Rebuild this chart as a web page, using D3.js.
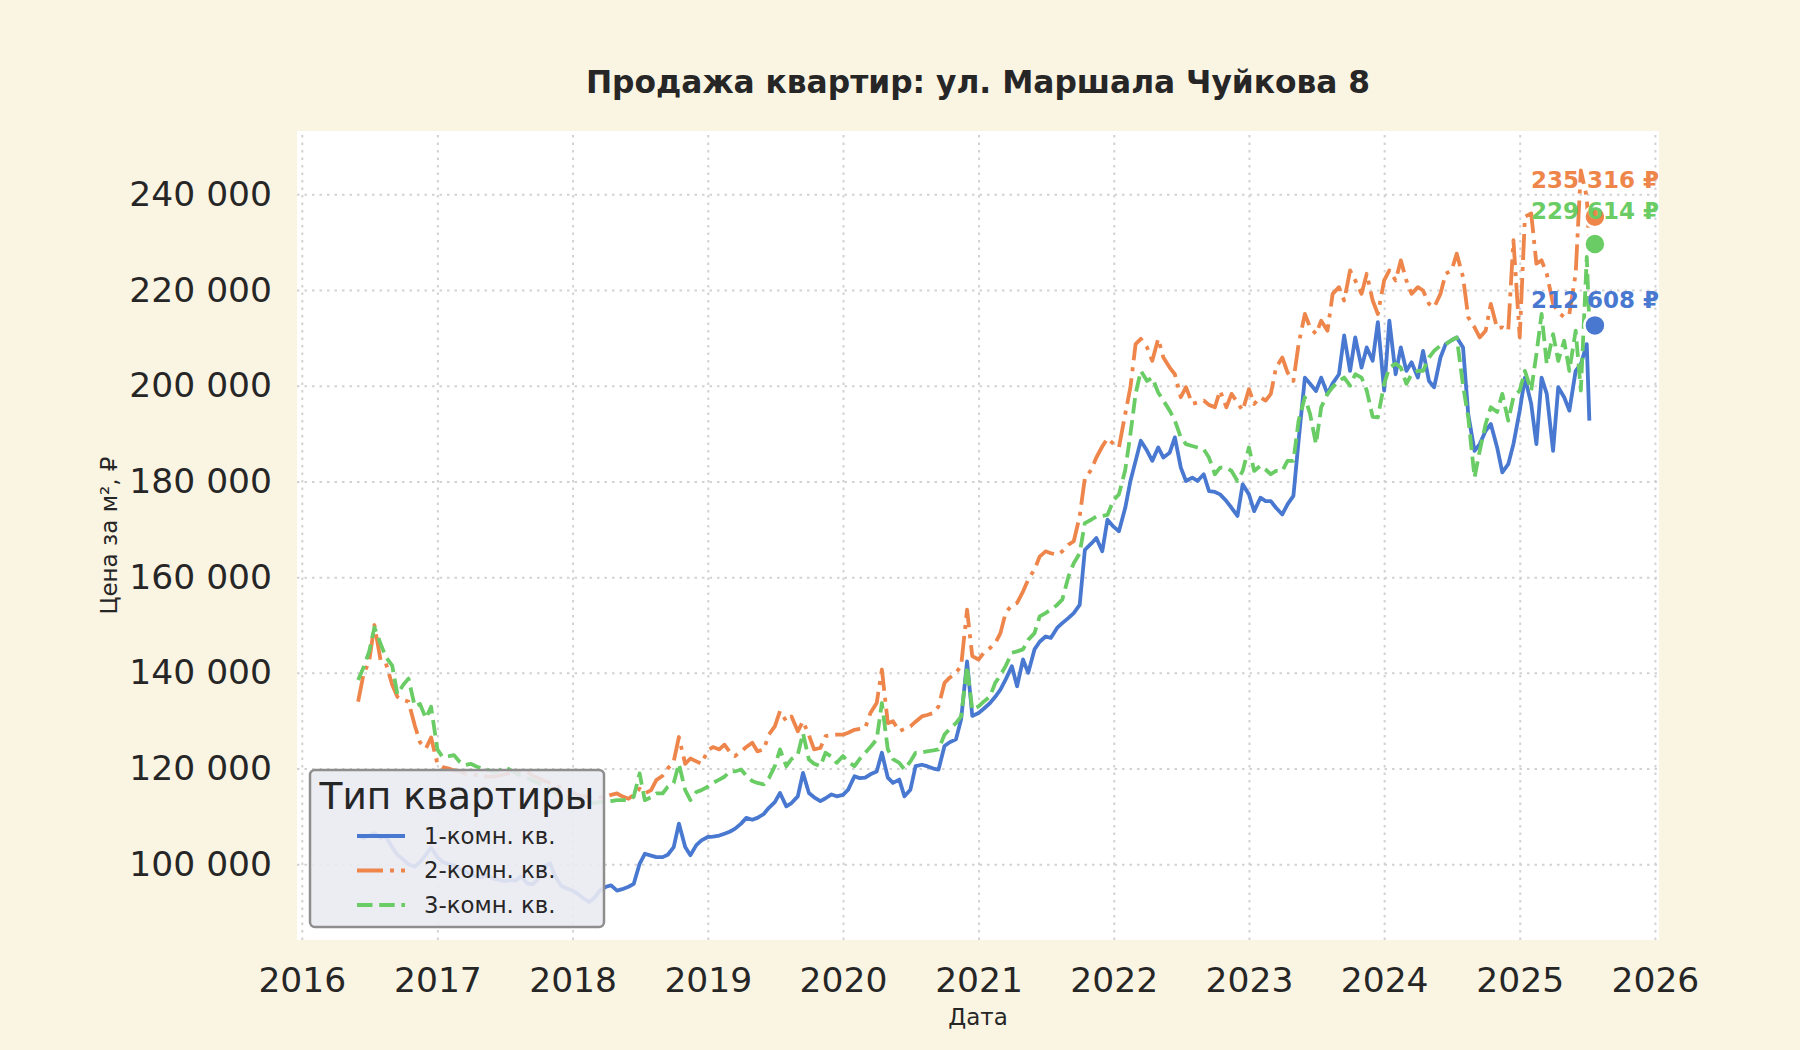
<!DOCTYPE html>
<html>
<head>
<meta charset="utf-8">
<script src="https://cdn.jsdelivr.net/npm/d3@7"></script>
<style>
  html, body { margin: 0; padding: 0; background: #FAF4E3; }
  svg { display: block; font-family: "DejaVu Sans", sans-serif; }
</style>
</head>
<body>
<div id="chart"></div>
<script>
// frame and plot area
const FRAME_WIDTH = 1800;
const FRAME_HEIGHT = 1050;
const PLOT = {left: 297, right: 1659, top: 131, bottom: 940};

// data: semi-monthly prices per m2
const DATES = [
  "2016-06-01","2016-06-15","2016-07-01","2016-07-15","2016-08-01","2016-08-15","2016-09-01","2016-09-15","2016-10-01","2016-10-15","2016-11-01","2016-11-15","2016-12-01","2016-12-15",
  "2017-01-01","2017-01-15","2017-02-01","2017-02-15","2017-03-01","2017-03-15","2017-04-01","2017-04-15","2017-05-01","2017-05-15","2017-06-01","2017-06-15","2017-07-01","2017-07-15","2017-08-01","2017-08-15","2017-09-01","2017-09-15","2017-10-01","2017-10-15","2017-11-01","2017-11-15","2017-12-01","2017-12-15",
  "2018-01-01","2018-01-15","2018-02-01","2018-02-15","2018-03-01","2018-03-15","2018-04-01","2018-04-15","2018-05-01","2018-05-15","2018-06-01","2018-06-15","2018-07-01","2018-07-15","2018-08-01","2018-08-15","2018-09-01","2018-09-15","2018-10-01","2018-10-15","2018-11-01","2018-11-15","2018-12-01","2018-12-15",
  "2019-01-01","2019-01-15","2019-02-01","2019-02-15","2019-03-01","2019-03-15","2019-04-01","2019-04-15","2019-05-01","2019-05-15","2019-06-01","2019-06-15","2019-07-01","2019-07-15","2019-08-01","2019-08-15","2019-09-01","2019-09-15","2019-10-01","2019-10-15","2019-11-01","2019-11-15","2019-12-01","2019-12-15",
  "2020-01-01","2020-01-15","2020-02-01","2020-02-15","2020-03-01","2020-03-15","2020-04-01","2020-04-15","2020-05-01","2020-05-15","2020-06-01","2020-06-15","2020-07-01","2020-07-15","2020-08-01","2020-08-15","2020-09-01","2020-09-15","2020-10-01","2020-10-15","2020-11-01","2020-11-15","2020-12-01","2020-12-15",
  "2021-01-01","2021-01-15","2021-02-01","2021-02-15","2021-03-01","2021-03-15","2021-04-01","2021-04-15","2021-05-01","2021-05-15","2021-06-01","2021-06-15","2021-07-01","2021-07-15","2021-08-01","2021-08-15","2021-09-01","2021-09-15","2021-10-01","2021-10-15","2021-11-01","2021-11-15","2021-12-01","2021-12-15",
  "2022-01-01","2022-01-15","2022-02-01","2022-02-15","2022-03-01","2022-03-15","2022-04-01","2022-04-15","2022-05-01","2022-05-15","2022-06-01","2022-06-15","2022-07-01","2022-07-15","2022-08-01","2022-08-15","2022-09-01","2022-09-15","2022-10-01","2022-10-15","2022-11-01","2022-11-15","2022-12-01","2022-12-15",
  "2023-01-01","2023-01-15","2023-02-01","2023-02-15","2023-03-01","2023-03-15","2023-04-01","2023-04-15","2023-05-01","2023-05-15","2023-06-01","2023-06-15","2023-07-01","2023-07-15","2023-08-01","2023-08-15","2023-09-01","2023-09-15","2023-10-01","2023-10-15","2023-11-01","2023-11-15","2023-12-01","2023-12-15",
  "2024-01-01","2024-01-15","2024-02-01","2024-02-15","2024-03-01","2024-03-15","2024-04-01","2024-04-15","2024-05-01","2024-05-15","2024-06-01","2024-06-15","2024-07-01","2024-07-15","2024-08-01","2024-08-15","2024-09-01","2024-09-15","2024-10-01","2024-10-15","2024-11-01","2024-11-15","2024-12-01","2024-12-15",
  "2025-01-01","2025-01-15","2025-02-01","2025-02-15","2025-03-01","2025-03-15","2025-04-01","2025-04-15","2025-05-01","2025-05-15","2025-06-01","2025-06-15","2025-07-01","2025-07-08"
];

const ROOMS_1 = [
  106000,105500,106000,106500,105500,105800,103500,102000,101000,100000,99500,100500,102000,103500,
  101500,100500,100000,99800,99000,98500,98000,97500,97300,97800,97000,96800,96500,96700,96600,97500,96000,95800,97000,99500,100200,97500,95500,95000,
  94500,93800,92800,92100,93000,94500,95300,95600,94500,94800,95300,95900,100100,102200,101800,101500,101500,102000,103600,108500,103600,101900,104000,105000,
  105700,105800,106000,106400,106800,107400,108500,109700,109300,109700,110500,111800,113000,114900,112100,112800,114200,119100,114900,114000,113200,113800,114600,114200,
  114500,115600,118400,118000,118100,118800,119400,123300,118100,117000,117700,114200,115600,120500,120800,120500,120000,119800,124700,125500,126100,130300,142400,131000,
  131600,132500,133700,135000,136500,138600,141400,137200,142800,140000,144900,146500,147600,147300,149400,150400,151500,152500,154200,165700,167000,168200,165400,172000,
  170500,169600,174500,180100,184300,188500,186400,184300,187100,185000,186000,189200,182900,180100,180800,180100,181500,178000,177800,177300,175900,174500,172800,179400,
  177300,173800,176600,175900,175900,174500,173100,175200,177000,188500,201700,200400,198900,201700,198300,200500,202400,210500,203100,210100,203800,208000,205200,213300,
  199000,213600,202400,208000,203100,204900,201700,207300,201000,199700,205900,208700,209500,210100,208000,194000,186400,187800,190600,192000,187100,181900,183600,187800,
  194800,201700,196200,187800,201700,198300,186400,199700,197600,194800,203100,204500,208700,192700
];

const ROOMS_2 = [
  134000,139500,142500,150000,142500,142000,137500,135000,134300,134000,129000,125500,124200,126500,
  121000,120300,120000,119600,119500,119000,118600,118700,118500,118300,118300,118500,118800,119000,119200,119600,119300,118500,118000,117500,117000,116500,116000,115500,
  115000,114500,114200,114000,114300,114000,114100,114500,114800,114200,113700,114500,115800,114800,115500,117600,118500,120000,121500,126600,121000,122100,121500,121000,
  123800,124500,124000,125000,123500,122600,123600,124500,125400,123600,124000,127100,128800,132000,129900,130900,127800,129900,127000,124000,124300,126800,127000,127100,
  127100,127500,128100,128300,128500,131600,133700,140700,129500,129900,127800,128300,128800,129800,130900,131200,131600,133000,137900,139000,140000,141500,153200,143500,
  142800,144200,145200,146200,148300,152500,154200,154600,157000,159500,161600,164300,165400,165000,164700,165400,166800,167500,172700,180700,182400,185000,187300,189000,
  187800,187100,194100,199700,208700,209800,208000,205200,209800,205900,203800,202400,197600,199700,196200,196500,196900,196000,195500,199000,195500,198300,196500,194800,
  199300,196200,197600,196900,198300,203800,205900,202800,201000,208700,215000,212200,210800,213600,211500,219200,220600,217800,224100,222000,219200,223400,217800,215000,
  222000,224100,222000,226200,222000,219200,220600,219900,217100,216400,219200,223400,224100,227600,222700,214300,212200,210100,211500,217100,212000,212200,211500,230400,
  210100,235300,236000,225500,226200,223400,217100,215400,214300,215000,223400,245000,239400,229000
];

const ROOMS_3 = [
  138500,141000,144500,149500,146000,143300,141500,135500,137500,138800,133000,133500,130500,132900,
  124000,122400,122600,122800,121500,120700,121000,120500,120000,119800,119300,119500,120300,119800,119000,118500,118000,117500,117000,116300,115800,115000,114500,114000,
  113800,113500,113200,113000,112800,113000,113000,113200,113400,113400,113400,114100,119000,113400,114000,114800,114800,116200,117000,121000,115500,113400,115100,115500,
  116200,117000,117700,118300,119400,119400,119800,118500,117400,117000,116700,118000,120500,124000,120500,122000,122900,127400,121900,121000,120500,123300,122500,121200,
  122600,121500,120500,122000,123300,124500,126100,133700,124000,122000,121200,119800,121500,123300,123400,123600,123800,124000,127100,128300,129500,130900,141400,132300,
  133000,134000,135100,137900,139500,141400,144200,144500,144900,146900,148300,151800,152500,153200,154200,155300,160200,162900,165000,171300,172000,172700,172800,173000,
  176200,177300,182400,189900,198300,203100,201000,201700,198600,196900,194800,192700,189200,187800,187400,187100,186700,185000,181500,182900,182900,182200,180100,182200,
  187100,182200,183300,182500,181500,182200,182200,184300,184300,192700,197600,194100,187800,195500,198300,199700,201000,201700,200000,202400,201700,199000,193500,193400,
  200400,203800,204600,203800,200400,202400,203100,203100,205900,207300,208400,208700,209500,210100,200000,193400,180800,186400,192000,195500,194500,198300,192700,197600,
  199000,203100,199000,206600,215000,204500,210800,205200,209400,203100,211500,199000,226900,212900
];

// current (last) values shown as dots with labels
const LAST_DATE = "2025-07-23";
const LAST_VALUES = [212608, 235316, 229614];

const SERIES_NAMES = ["1-комн. кв.", "2-комн. кв.", "3-комн. кв."];
const COLORS = ["#4878D0", "#EE854A", "#6ACC64"];
const DASHES = [null, "26,7,4,7", "15.5,6.7"];
const LABEL_DY = [17, 29, 25];
const LINE_WIDTH = 3.8;

const Y_TICKS = [100000, 120000, 140000, 160000, 180000, 200000, 220000, 240000];
const X_TICKS = ["2016","2017","2018","2019","2020","2021","2022","2023","2024","2025","2026"];

const TITLE = "Продажа квартир: ул. Маршала Чуйкова 8";
const X_LABEL = "Дата";
const Y_LABEL = "Цена за м², ₽";
const LEGEND_TITLE = "Тип квартиры";

const TEXT_COLOR = "#262626";
const FONT = "DejaVu Sans";

const parseDate = d3.timeParse("%Y-%m-%d");
const parseYear = d3.timeParse("%Y");
const fmt = (v) => d3.format(",")(v).replace(/,/g, " ");

const svg = d3.select("#chart")
  .append("svg")
    .attr("width", FRAME_WIDTH)
    .attr("height", FRAME_HEIGHT);

svg.append("rect")
  .attr("width", FRAME_WIDTH)
  .attr("height", FRAME_HEIGHT)
  .attr("fill", "#FAF4E3");

// scales
const X_SCALE = d3.scaleTime()
  .domain([parseDate("2015-12-19"), parseDate("2026-01-12")])
  .range([PLOT.left, PLOT.right]);

const Y_SCALE = d3.scaleLinear()
  .domain([84180, 253230])
  .range([PLOT.bottom, PLOT.top]);

// plot background
svg.append("rect")
  .attr("x", PLOT.left)
  .attr("y", PLOT.top)
  .attr("width", PLOT.right - PLOT.left)
  .attr("height", PLOT.bottom - PLOT.top)
  .attr("fill", "#FFFFFF");

// grid lines
const xTickDates = X_TICKS.map(parseYear);
svg.append("g")
  .attr("transform", "translate(0," + PLOT.bottom + ")")
  .call(d3.axisBottom(X_SCALE).tickValues(xTickDates).tickSize(-(PLOT.bottom - PLOT.top)).tickFormat(""))
  .call(g => g.select(".domain").remove())
  .call(g => g.selectAll("line")
    .attr("stroke", "#d2d2d2")
    .attr("stroke-width", 2)
    .attr("stroke-dasharray", "2.5,5"));

svg.append("g")
  .attr("transform", "translate(" + PLOT.left + ",0)")
  .call(d3.axisLeft(Y_SCALE).tickValues(Y_TICKS).tickSize(-(PLOT.right - PLOT.left)).tickFormat(""))
  .call(g => g.select(".domain").remove())
  .call(g => g.selectAll("line")
    .attr("stroke", "#d2d2d2")
    .attr("stroke-width", 2)
    .attr("stroke-dasharray", "2.5,5"));

// tick labels
svg.append("g")
  .attr("transform", "translate(0," + PLOT.bottom + ")")
  .call(d3.axisBottom(X_SCALE).tickValues(xTickDates).tickSize(0).tickPadding(27.5).tickFormat(d3.timeFormat("%Y")))
  .call(g => g.select(".domain").remove())
  .call(g => g.selectAll("text")
    .attr("font-family", FONT)
    .attr("font-size", "34.5px")
    .attr("fill", TEXT_COLOR));

svg.append("g")
  .attr("transform", "translate(" + PLOT.left + ",0)")
  .call(d3.axisLeft(Y_SCALE).tickValues(Y_TICKS).tickSize(0).tickPadding(25).tickFormat(fmt))
  .call(g => g.select(".domain").remove())
  .call(g => g.selectAll("text")
    .attr("font-family", FONT)
    .attr("font-size", "34.5px")
    .attr("fill", TEXT_COLOR));

// lines
const SERIES = [ROOMS_1, ROOMS_2, ROOMS_3];
const line = d3.line()
  .defined(d => d[1] != null)
  .x(d => X_SCALE(d[0]))
  .y(d => Y_SCALE(d[1]));

SERIES.forEach((values, i) => {
  const pts = DATES.map((d, j) => [parseDate(d), values[j]]);
  svg.append("path")
    .datum(pts)
    .attr("d", line)
    .attr("fill", "none")
    .attr("stroke", COLORS[i])
    .attr("stroke-width", LINE_WIDTH)
    .attr("stroke-linejoin", "round")
    .attr("stroke-dasharray", DASHES[i]);
});

// last value dots and labels
const lastX = X_SCALE(parseDate(LAST_DATE));
svg.selectAll(".last-dot")
  .data(LAST_VALUES)
  .enter()
  .append("circle")
    .attr("class", "last-dot")
    .attr("cx", lastX)
    .attr("cy", d => Y_SCALE(d))
    .attr("r", 10.5)
    .attr("fill", (d, i) => COLORS[i])
    .attr("stroke", "#FFFFFF")
    .attr("stroke-width", 2.5);

svg.selectAll(".last-label")
  .data(LAST_VALUES)
  .enter()
  .append("text")
    .attr("class", "last-label")
    .attr("x", lastX)
    .attr("y", (d, i) => Y_SCALE(d) - LABEL_DY[i])
    .attr("text-anchor", "middle")
    .attr("font-family", FONT)
    .attr("font-weight", "bold")
    .attr("font-size", "23px")
    .attr("fill", (d, i) => COLORS[i])
    .text(d => fmt(d) + " ₽");

// title and axis titles
svg.append("text")
  .attr("x", (PLOT.left + PLOT.right) / 2)
  .attr("y", 93)
  .attr("text-anchor", "middle")
  .attr("font-family", FONT)
  .attr("font-weight", "bold")
  .attr("font-size", "31.3px")
  .attr("fill", TEXT_COLOR)
  .text(TITLE);

svg.append("text")
  .attr("x", (PLOT.left + PLOT.right) / 2)
  .attr("y", 1025)
  .attr("text-anchor", "middle")
  .attr("font-family", FONT)
  .attr("font-size", "23px")
  .attr("fill", TEXT_COLOR)
  .text(X_LABEL);

svg.append("text")
  .attr("transform", "translate(117," + (PLOT.top + PLOT.bottom) / 2 + ") rotate(-90)")
  .attr("text-anchor", "middle")
  .attr("font-family", FONT)
  .attr("font-size", "23px")
  .attr("fill", TEXT_COLOR)
  .text(Y_LABEL);

// legend
const LEG = {x: 310, y: 770, w: 294, h: 157};
const legend = svg.append("g");
legend.append("rect")
  .attr("x", LEG.x)
  .attr("y", LEG.y)
  .attr("width", LEG.w)
  .attr("height", LEG.h)
  .attr("rx", 5)
  .attr("fill", "#EAEAF2")
  .attr("fill-opacity", 0.9)
  .attr("stroke", "#8e8e8e")
  .attr("stroke-width", 2.5);

legend.append("text")
  .attr("x", LEG.x + LEG.w / 2)
  .attr("y", LEG.y + 39)
  .attr("text-anchor", "middle")
  .attr("font-family", FONT)
  .attr("font-size", "37.5px")
  .attr("fill", TEXT_COLOR)
  .text(LEGEND_TITLE);

SERIES_NAMES.forEach((name, i) => {
  const cy = LEG.y + 66 + i * 34.5;
  legend.append("line")
    .attr("x1", LEG.x + 47)
    .attr("x2", LEG.x + 95)
    .attr("y1", cy)
    .attr("y2", cy)
    .attr("stroke", COLORS[i])
    .attr("stroke-width", LINE_WIDTH)
    .attr("stroke-dasharray", DASHES[i]);
  legend.append("text")
    .attr("x", LEG.x + 114)
    .attr("y", cy + 7.5)
    .attr("font-family", FONT)
    .attr("font-size", "22.8px")
    .attr("fill", TEXT_COLOR)
    .text(name);
});
</script>
</body>
</html>
